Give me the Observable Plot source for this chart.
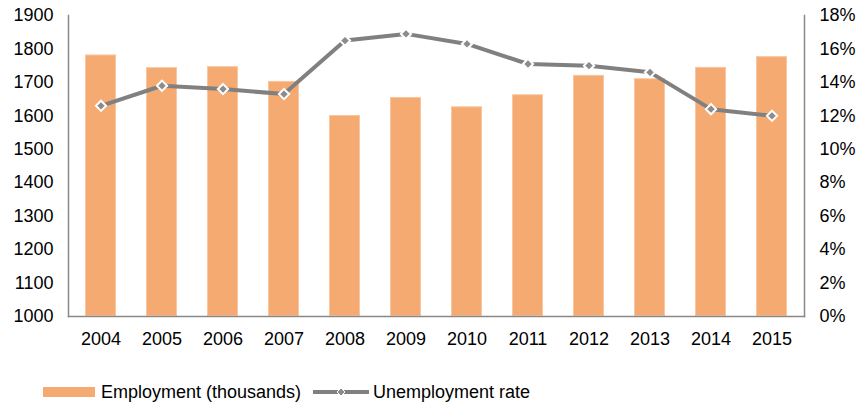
<!DOCTYPE html>
<html>
<head>
<meta charset="utf-8">
<script src="https://cdn.jsdelivr.net/npm/d3@7"></script>
<script src="https://cdn.jsdelivr.net/npm/@observablehq/plot@0.6"></script>
<style>
  body { margin: 0; background: #fff; font-family: "Liberation Sans", Arial, sans-serif; }
  #wrap { position: relative; width: 858px; height: 404px; }
  .leg { position: absolute; top: 380px; font-size: 18px; color: #000; display: flex; align-items: center; height: 24px; white-space: nowrap; }
</style>
</head>
<body>
<div id="wrap">
  <div id="chart"></div>
  <div class="leg" style="left:43px"><span style="display:inline-block;width:52px;height:10px;background:#F5AA71;margin-right:6px"></span>Employment (thousands)</div>
  <div class="leg" style="left:313px"><svg width="56" height="12" style="margin-right:4px"><line x1="0" y1="6" x2="56" y2="6" stroke="#808080" stroke-width="4"/><path d="M28,2L32,6L28,10L24,6Z" fill="#8c8c8c" stroke="#fff" stroke-width="1"/></svg>Unemployment rate</div>
</div>
<script>
const years = ["2004","2005","2006","2007","2008","2009","2010","2011","2012","2013","2014","2015"];
const employment = [1782, 1744, 1747, 1703, 1601, 1655, 1627, 1663, 1721, 1711, 1745, 1777];
const unemploymentRate = [12.6, 13.8, 13.6, 13.3, 16.5, 16.9, 16.3, 15.1, 15.0, 14.6, 12.4, 12.0];
const leftTicks = [1000,1100,1200,1300,1400,1500,1600,1700,1800,1900];
const rightTicks = [0,2,4,6,8,10,12,14,16,18];

const data = years.map((y, i) => ({year: y, emp: employment[i], rate: unemploymentRate[i]}));
const toLeft = r => 1000 + r * 50; // 18% -> 1900

const axisColor = "#898989";
const plot = Plot.plot({
  width: 858,
  height: 360,
  marginLeft: 68,
  marginRight: 54,
  marginTop: 15,
  marginBottom: 44,
  style: {fontFamily: "'Liberation Sans', Arial, sans-serif", fontSize: "18px", color: "#000", background: "#fff"},
  x: {domain: years, paddingInner: 0.5, paddingOuter: 0.25, label: null},
  y: {domain: [1000, 1900], label: null},
  marks: [
    Plot.barY(data, {x: "year", y1: 1000, y2: "emp", fill: "#F5AA71", stroke: "#F8C6A0", strokeWidth: 1, inset: 0.5}),
    Plot.frame({anchor: "left", stroke: axisColor, strokeWidth: 1.5}),
    Plot.frame({anchor: "right", stroke: axisColor, strokeWidth: 1.5}),
    Plot.frame({anchor: "bottom", stroke: axisColor, strokeWidth: 1.5}),
    Plot.axisY(leftTicks, {anchor: "left", tickSize: 0, tickPadding: 15, tickFormat: d => String(d), label: null}),
    Plot.axisY(rightTicks.map(toLeft), {anchor: "right", tickSize: 0, tickPadding: 15, tickFormat: d => Math.round((d - 1000) / 50) + "%", label: null}),
    Plot.axisX({tickSize: 0, tickPadding: 16, label: null}),
    Plot.line(data, {x: "year", y: d => toLeft(d.rate), stroke: "#808080", strokeWidth: 4}),
    Plot.dot(data, {x: "year", y: d => toLeft(d.rate), symbol: "diamond2", r: 4.6, fill: "#8c8c8c", stroke: "#fff", strokeWidth: 2})
  ]
});
document.getElementById("chart").appendChild(plot);
</script>
</body>
</html>
